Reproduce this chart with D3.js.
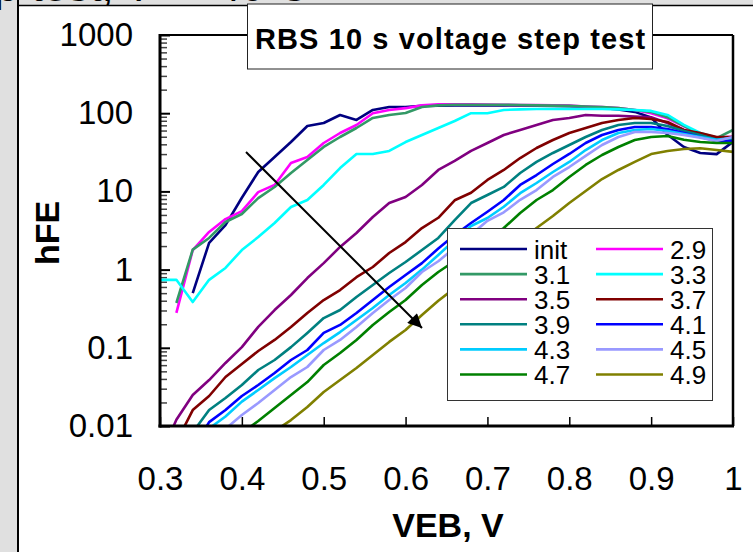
<!DOCTYPE html>
<html>
<head>
<meta charset="utf-8">
<script src="https://cdn.jsdelivr.net/npm/d3@7"></script>
<style>
  html, body { margin: 0; padding: 0; background: #e0e0e0; }
  svg { display: block; font-family: "Liberation Sans", Arial, sans-serif; }
</style>
</head>
<body>
<svg id="chart" width="753" height="552"></svg>
<script>
// Emitter-base voltage grid (V)
const veb = [0.30, 0.32, 0.34, 0.36, 0.38, 0.40, 0.42, 0.44, 0.46, 0.48,
             0.50, 0.52, 0.54, 0.56, 0.58, 0.60, 0.62, 0.64, 0.66, 0.68,
             0.70, 0.72, 0.74, 0.76, 0.78, 0.80, 0.82, 0.84, 0.86, 0.88,
             0.90, 0.92, 0.94, 0.96, 0.98, 1.00];

// Current gain hFE after each stress step (null = not measured / off scale)
const hfeInit = [null, null, 0.50, 2.2, 3.7, 8.3, 17.7, 27.5, 42.8, 68.6,
                 75, 94.8, 82, 110, 120, 120, 124, 125, 126, 126,
                 126, 126, 125, 125, 124, 123, 120, 117, 112, 104,
                 88, 53, 37, 31, 30, 43];
const hfe29 = [null, 0.28, 1.78, 3.03, 4.43, 5.6, 9.8, 12.1, 23.1, 27.5,
               41.6, 55.8, 70.7, 100, 110, 116, 126, 130, 130, 130,
               129, 128, 127, 127, 126, 125, 122, 120, 116, 110,
               100, 86, 68, 54, 49, 50];
const hfe31 = [null, 0.374, 1.8, 2.54, 4.06, 5.14, 8.2, 11.4, 17.2, 25.2,
               37, 49.6, 64.7, 86.9, 94.8, 100.6, 120, 126, 128, 128,
               128, 128, 127, 126, 125, 124, 122, 120, 116, 110,
               104, 89, 69, 54, 48, 61];
const hfe33 = [0.74, 0.74, 0.385, 0.74, 1.05, 1.78, 2.61, 3.94, 6.32, 7.76,
               12.1, 19.9, 30.1, 30.1, 32.9, 42.8, 52.6, 64.7, 79.4, 100,
               100, 110, 112, 113, 113, 113, 113, 113, 112, 110,
               107, 95, 71, 56, 48.5, 48.5];
const hfe35 = [0.004, 0.012, 0.0249, 0.0387, 0.064, 0.102, 0.185, 0.304, 0.473, 0.78,
               1.21, 1.95, 2.94, 4.71, 7.1, 8.48, 12.1, 18.8, 24.5, 32.9,
               41.6, 52.6, 61, 70.7, 81.9, 86.9, 94.8, 92.6, 92.6, 90.5,
               88.5, 75, 61, 52.6, 46.8, 45.7];
const hfe37 = [0.003, 0.0062, 0.016, 0.0242, 0.0423, 0.062, 0.091, 0.126, 0.185, 0.279,
               0.408, 0.548, 0.80, 1.08, 1.63, 2.25, 3.4, 4.6, 7.7, 9.6,
               14, 18.8, 26.7, 35.9, 45.4, 55.8, 64.7, 75, 81.9, 86.9,
               84.3, 77.1, 61, 55.8, 49.6, 49.6];
const hfe39 = [null, 0.004, 0.0083, 0.016, 0.0228, 0.0334, 0.052, 0.0698, 0.102, 0.155,
               0.240, 0.304, 0.446, 0.636, 0.905, 1.25, 1.78, 2.54, 4.3, 7.1,
               9.0, 11.4, 17.2, 23.8, 31, 39.2, 49.6, 61, 70.7, 75,
               75, 68.6, 59.2, 52.6, 45.7, 45.7];
const hfe41 = [null, null, 0.005, 0.0112, 0.016, 0.0242, 0.0334, 0.0476, 0.0698, 0.0937,
               0.155, 0.196, 0.279, 0.408, 0.599, 0.853, 1.21, 1.86, 2.77, 3.94,
               5.5, 7.76, 12.1, 16.2, 22.4, 30.1, 41.6, 52.6, 61, 66.6,
               66.6, 62.8, 55.8, 49.6, 44.1, 44];
const hfe43 = [null, null, null, 0.0093, 0.0132, 0.0205, 0.0289, 0.041, 0.0568, 0.081,
               0.115, 0.159, 0.227, 0.323, 0.473, 0.674, 1.0, 1.54, 2.39, 3.61,
               4.57, 6.37, 9.5, 12.8, 17.7, 23.8, 33.8, 45.4, 55.8, 61,
               62.8, 59.2, 54.2, 49.6, 45.7, 48.5];
const hfe45 = [null, null, null, 0.005, 0.0092, 0.0138, 0.0197, 0.0289, 0.0423, 0.0568,
               0.0937, 0.126, 0.185, 0.279, 0.408, 0.582, 0.931, 1.28, 1.9, 2.8,
               4.2, 5.4, 7.8, 10.4, 15.3, 20.5, 28.4, 39.2, 49.6, 57.5,
               57.5, 55.8, 52.6, 48.5, 44, 49.6];
const hfe47 = [null, null, null, null, null, 0.0081, 0.0116, 0.017, 0.0249, 0.0365,
               0.0603, 0.0858, 0.126, 0.196, 0.287, 0.408, 0.636, 0.931, 1.29, 1.81,
               2.54, 3.4, 5.3, 7.76, 10.4, 15.3, 21.8, 29.2, 37, 45.4,
               49.6, 51.1, 45.7, 42.8, 41.6, 41.6];
const hfe49 = [null, null, null, null, null, null, null, 0.0086, 0.0119, 0.0175,
               0.0272, 0.0387, 0.0552, 0.081, 0.119, 0.169, 0.263, 0.40, 0.58, 0.83,
               1.18, 1.68, 2.39, 3.4, 4.85, 7.1, 10.1, 14.4, 18.8, 23.8,
               30, 32.9, 34.8, 35.7, 33.8, 32];

const seriesNames  = ["init", "2.9", "3.1", "3.3", "3.5", "3.7", "3.9", "4.1", "4.3", "4.5", "4.7", "4.9"];
const seriesValues = [hfeInit, hfe29, hfe31, hfe33, hfe35, hfe37, hfe39, hfe41, hfe43, hfe45, hfe47, hfe49];
const seriesColors = ["#000080", "#ff00ff", "#339966", "#00ffff", "#800080", "#800000",
                      "#008080", "#0000ff", "#00ccff", "#9999ff", "#008000", "#808000"];

const xTickValues = [0.3, 0.4, 0.5, 0.6, 0.7, 0.8, 0.9, 1.0];
const xTickLabels = ["0.3", "0.4", "0.5", "0.6", "0.7", "0.8", "0.9", "1"];
const yTickValues = [0.01, 0.1, 1, 10, 100, 1000];
const yTickLabels = ["0.01", "0.1", "1", "10", "100", "1000"];

const titleText = "RBS 10 s voltage step test";
const xTitle = "VEB, V";
const yTitle = "hFE";

// ---- layout ----
const plot = { left: 160, right: 733, top: 35, bottom: 426 };

const svg = d3.select("#chart");

// window background and chart sheet
svg.append("rect").attr("width", 753).attr("height", 552).attr("fill", "#e0e0e0");
svg.append("text")
  .attr("x", -6).attr("y", 1)
  .attr("font-size", 44).attr("fill", "#000")
  .text("p test, T = -40 C");
svg.append("rect").attr("x", 19).attr("y", 5).attr("width", 740).attr("height", 552)
  .attr("fill", "#fff");
svg.append("line").attr("x1", 19).attr("x2", 753).attr("y1", 5.5).attr("y2", 5.5)
  .attr("stroke", "#000").attr("stroke-width", 1.5);
svg.append("line").attr("x1", 18).attr("x2", 18).attr("y1", 0).attr("y2", 552)
  .attr("stroke", "#000").attr("stroke-width", 2);

const x = d3.scaleLinear().domain([0.3, 1.0]).range([plot.left, plot.right]);
const y = d3.scaleLog().domain([0.01, 1000]).range([plot.bottom, plot.top]);

// minor ticks for the log axis
const yMinor = [];
yTickValues.slice(0, -1).forEach(d => { for (let m = 2; m <= 9; m++) yMinor.push(d * m); });

svg.append("g")
  .attr("transform", `translate(${plot.left},0)`)
  .call(d3.axisLeft(y).tickValues(yMinor).tickFormat("").tickSize(-7))
  .call(g => g.select(".domain").remove())
  .call(g => g.selectAll("line").attr("stroke", "#444").attr("stroke-width", 1.5));

svg.append("g")
  .attr("transform", `translate(${plot.left},0)`)
  .call(d3.axisLeft(y).tickValues(yTickValues)
        .tickFormat((d, i) => yTickLabels[i]).tickSize(-10).tickPadding(27))
  .call(g => g.select(".domain").remove())
  .call(g => g.selectAll("line").attr("stroke", "#000").attr("stroke-width", 2))
  .call(g => g.selectAll("text").attr("font-size", 33).attr("fill", "#000")
        .attr("font-family", "Liberation Sans, Arial, sans-serif"));

svg.append("g")
  .attr("transform", `translate(0,${plot.bottom})`)
  .call(d3.axisBottom(x).tickValues(xTickValues)
        .tickFormat((d, i) => xTickLabels[i]).tickSize(-9).tickPadding(41))
  .call(g => g.select(".domain").remove())
  .call(g => g.selectAll("line").attr("stroke", "#000").attr("stroke-width", 1.5))
  .call(g => g.selectAll("text").attr("font-size", 33).attr("fill", "#000")
        .attr("font-family", "Liberation Sans, Arial, sans-serif"));

// data lines, clipped to the plot area
svg.append("clipPath").attr("id", "plotClip")
  .append("rect").attr("x", plot.left).attr("y", plot.top)
  .attr("width", plot.right - plot.left).attr("height", plot.bottom - plot.top);

const line = d3.line()
  .defined(d => d[1] != null)
  .x(d => x(d[0]))
  .y(d => y(d[1]));

const lines = svg.append("g").attr("clip-path", "url(#plotClip)");
seriesValues.forEach((vals, i) => {
  lines.append("path")
    .datum(veb.map((v, j) => [v, vals[j]]))
    .attr("fill", "none")
    .attr("stroke", seriesColors[i])
    .attr("stroke-width", 2.6)
    .attr("stroke-linejoin", "round")
    .attr("d", line);
});

// plot frame
svg.append("line").attr("x1", plot.left).attr("x2", plot.right)
  .attr("y1", plot.top).attr("y2", plot.top).attr("stroke", "#000").attr("stroke-width", 2);
svg.append("line").attr("x1", plot.right).attr("x2", plot.right)
  .attr("y1", plot.top).attr("y2", plot.bottom).attr("stroke", "#000").attr("stroke-width", 2.5);
svg.append("line").attr("x1", plot.left).attr("x2", plot.left)
  .attr("y1", plot.top - 1).attr("y2", plot.bottom + 1.5).attr("stroke", "#000").attr("stroke-width", 3);
svg.append("line").attr("x1", plot.left - 1.5).attr("x2", plot.right + 1)
  .attr("y1", plot.bottom).attr("y2", plot.bottom).attr("stroke", "#000").attr("stroke-width", 3);

// arrow showing the trend with increasing stress
svg.append("defs").append("marker")
  .attr("id", "arrowHead").attr("viewBox", "0 0 10 10")
  .attr("refX", 10).attr("refY", 5)
  .attr("markerUnits", "userSpaceOnUse")
  .attr("markerWidth", 17).attr("markerHeight", 14)
  .attr("orient", "auto")
  .append("path").attr("d", "M0,0 L10,5 L0,10 Z").attr("fill", "#000");
svg.append("line")
  .attr("x1", 246).attr("y1", 152).attr("x2", 422).attr("y2", 328)
  .attr("stroke", "#000").attr("stroke-width", 2)
  .attr("marker-end", "url(#arrowHead)");

// legend
const legend = svg.append("g");
legend.append("rect").attr("x", 447.5).attr("y", 228.5).attr("width", 265).attr("height", 172)
  .attr("fill", "#fff").attr("stroke", "#333").attr("stroke-width", 1);
seriesNames.forEach((name, i) => {
  const col = i % 2, row = Math.floor(i / 2);
  const lx = col === 0 ? 460 : 596;
  const ly = 249 + row * 25.1;
  legend.append("line").attr("x1", lx).attr("x2", lx + 67).attr("y1", ly).attr("y2", ly)
    .attr("stroke", seriesColors[i]).attr("stroke-width", 2.6);
  legend.append("text").attr("x", lx + 74).attr("y", ly + 9.5)
    .attr("font-size", 26).attr("fill", "#000").text(name);
});

// chart title box
svg.append("rect").attr("x", 247.5).attr("y", 4).attr("width", 405).attr("height", 65)
  .attr("fill", "#fff").attr("stroke", "#222").attr("stroke-width", 1);
svg.append("text").attr("x", 255).attr("y", 49)
  .attr("font-size", 29).attr("font-weight", "bold").attr("letter-spacing", 1.1)
  .attr("fill", "#000").text(titleText);

// axis titles
svg.append("text").attr("x", 448).attr("y", 537).attr("text-anchor", "middle")
  .attr("font-size", 34).attr("font-weight", "bold").text(xTitle);
svg.append("text").attr("transform", "translate(59,233) rotate(-90)")
  .attr("text-anchor", "middle")
  .attr("font-size", 34).attr("font-weight", "bold").text(yTitle);
</script>
</body>
</html>
